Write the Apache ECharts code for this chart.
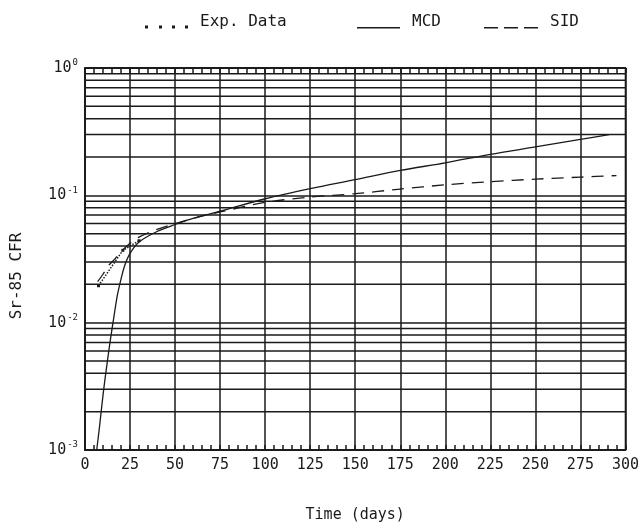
<!DOCTYPE html>
<html>
<head>
<meta charset="utf-8">
<script src="https://cdn.jsdelivr.net/npm/echarts@6/dist/echarts.min.js"></script>
<style>
  html, body { margin: 0; padding: 0; background: #fff; }
  #chart { width: 642px; height: 528px; }
</style>
</head>
<body>
<div id="chart"></div>
<script>
// Data (x = days, y = Sr-85 CFR)
const mcdDays = [6.5, 8, 10, 12, 14, 16, 18, 20, 22, 25, 30, 40, 50, 60, 75, 100, 125, 150, 175, 200, 225, 250, 275, 291];
const mcdCfr  = [0.001, 0.0015, 0.0027, 0.0045, 0.0072, 0.011, 0.0165, 0.022, 0.028, 0.035, 0.043, 0.052, 0.059, 0.066, 0.075, 0.094, 0.113, 0.133, 0.157, 0.18, 0.21, 0.24, 0.275, 0.30];

const sidDays = [7, 10, 13, 16, 20, 25, 30, 40, 50, 60, 75, 100, 125, 150, 175, 200, 225, 250, 275, 295];
const sidCfr  = [0.021, 0.024, 0.028, 0.031, 0.036, 0.042, 0.047, 0.054, 0.06, 0.066, 0.074, 0.088, 0.097, 0.103, 0.112, 0.121, 0.128, 0.134, 0.139, 0.143];

const expDays = [7.5, 21, 30];
const expCfr  = [0.0195, 0.037, 0.044];

// minor log grid lines (2..9 per decade)
const minorGrid = [0.002, 0.003, 0.004, 0.005, 0.006, 0.007, 0.008, 0.009,
                   0.02, 0.03, 0.04, 0.05, 0.06, 0.07, 0.08, 0.09,
                   0.2, 0.3, 0.4, 0.5, 0.6, 0.7, 0.8, 0.9];

const zip = (xs, ys) => xs.map((x, i) => [x, ys[i]]);

const font = 'DejaVu Sans Mono';
const ink = '#1a1a1a';

// legend icons drawn as paths (tiny anchor square keeps the box size)
const anchor = 'M0,0h0.05v0.05h-0.05z ';
const iconDots = 'path://' + anchor + 'M0,10h3v3h-3z M14,10h3v3h-3z M27,10h3v3h-3z M40,10h3v3h-3z';
const iconSolid = 'path://' + anchor + 'M0,11.5h43v1.5h-43z';
const iconDash = 'path://' + anchor + 'M0,11.5h14v1.5h-14z M20,11.5h14v1.5h-14z M40,11.5h14v1.5h-14z';

const legendText = { fontFamily: font, fontSize: 16, color: ink, padding: [0, 0, 0, 7] };

let chart = echarts.init(document.getElementById('chart'), null, { renderer: 'canvas' });

// one thin series per minor horizontal grid line
const gridSeries = minorGrid.map(v => ({
    name: 'grid' + v,
    type: 'line',
    data: [[0, v], [300, v]],
    symbol: 'none',
    silent: true,
    z: 1,
    lineStyle: { color: ink, width: 1.5 }
}));

const option = {
    backgroundColor: '#fff',
    animation: false,
    textStyle: { fontFamily: font, color: ink },
    grid: {
        left: 85, right: 16, top: 68, bottom: 76,
        show: true, borderColor: ink, borderWidth: 1.5
    },
    legend: [
        { left: 140, top: 9, itemWidth: 43, itemHeight: 13, data: [{ name: 'Exp. Data', icon: iconDots }], textStyle: legendText },
        { left: 352, top: 9, itemWidth: 43, itemHeight: 13, data: [{ name: 'MCD', icon: iconSolid }], textStyle: legendText },
        { left: 479, top: 9, itemWidth: 54, itemHeight: 13, data: [{ name: 'SID', icon: iconDash }], textStyle: legendText }
    ],
    xAxis: [{
        type: 'value', min: 0, max: 300, interval: 25,
        name: 'Time (days)', nameLocation: 'middle', nameGap: 58,
        nameTextStyle: { fontFamily: font, fontSize: 15, color: ink },
        axisLine: { lineStyle: { color: ink, width: 1.5 } },
        axisTick: { inside: true, length: 5, lineStyle: { color: ink, width: 1.5 } },
        minorTick: { show: true, splitNumber: 5, length: 5, lineStyle: { color: ink, width: 1.5 } },
        axisLabel: { fontFamily: font, fontSize: 15, color: ink, margin: 8 },
        splitLine: { show: true, lineStyle: { color: ink, width: 1.5 } }
    }, {
        type: 'value', min: 0, max: 300, interval: 25, position: 'top',
        axisLine: { lineStyle: { color: ink, width: 1.5 } },
        axisTick: { inside: true, length: 5, lineStyle: { color: ink, width: 1.5 } },
        minorTick: { show: true, splitNumber: 5, length: 5, lineStyle: { color: ink, width: 1.5 } },
        axisLabel: { show: false },
        splitLine: { show: false }
    }],
    yAxis: {
        type: 'log', logBase: 10, min: 0.001, max: 1,
        name: 'Sr-85 CFR', nameLocation: 'middle', nameGap: 60, nameRotate: 90,
        nameTextStyle: { fontFamily: font, fontSize: 16, color: ink, padding: [0, 34, 0, 0] },
        axisLine: { lineStyle: { color: ink, width: 1.5 } },
        axisTick: { show: false },
        axisLabel: {
            margin: 7,
            formatter: function (value) {
                return '{b|10}{e|' + Math.round(Math.log10(value)) + '}';
            },
            rich: {
                b: { fontFamily: font, fontSize: 15, color: ink },
                e: { fontFamily: font, fontSize: 9, color: ink, padding: [0, 0, 10, 1] }
            }
        },
        splitLine: { show: true, lineStyle: { color: ink, width: 1.5 } }
    },
    series: gridSeries.concat([{
        name: 'Exp. Data',
        type: 'line',
        data: zip(expDays, expCfr),
        symbol: 'rect', symbolSize: 3,
        itemStyle: { color: ink },
        lineStyle: { color: ink, width: 1.5, type: 'dotted' }
    }, {
        name: 'MCD',
        type: 'line',
        data: zip(mcdDays, mcdCfr),
        smooth: 0.3,
        symbol: 'none',
        itemStyle: { color: ink },
        lineStyle: { color: ink, width: 1.3 }
    }, {
        name: 'SID',
        type: 'line',
        data: zip(sidDays, sidCfr),
        smooth: 0.3,
        symbol: 'none',
        itemStyle: { color: ink },
        lineStyle: { color: ink, width: 1.3, type: [12, 8] }
    }])
};

chart.setOption(option);
</script>
</body>
</html>
